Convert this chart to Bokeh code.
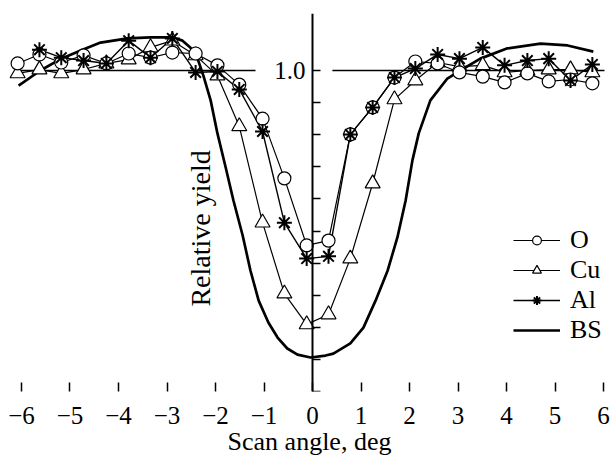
import numpy as np
from bokeh.plotting import figure
from bokeh.models import (Range1d, LinearAxis, FixedTicker, Label, Legend,
                          LegendItem)
from bokeh.embed import file_html
from bokeh.resources import INLINE

# ---- data ----
angle = [-6.08, -5.63, -5.18, -4.72, -4.25, -3.79, -3.34, -2.89, -2.41,
         -1.96, -1.51, -1.03, -0.58, -0.12, 0.33, 0.78, 1.24, 1.69, 2.12,
         2.58, 3.03, 3.51, 3.96, 4.43, 4.87, 5.32, 5.77]
o_yield = [1.022, 1.050, 1.025, 1.047, 1.022, 1.053, 1.040, 1.056, 1.053,
           1.016, 0.956, 0.850, 0.664, 0.455, 0.470, 0.801, 0.885, 0.978,
           1.028, 1.022, 0.994, 0.981, 0.963, 0.991, 0.966, 0.972, 0.960]
cu_yield = [0.991, 1.003, 0.991, 1.003, 1.022, 1.034, 1.072, 1.093, 1.047,
            0.984, 0.826, 0.526, 0.305, 0.209, 0.240, 0.414, 0.648, 0.910,
            0.969, 1.025, 1.012, 1.016, 0.994, 1.000, 1.003, 1.003, 0.994]
al_angle = angle[1:]
al_yield = [1.065, 1.040, 1.031, 1.022, 1.093, 1.040, 1.100, 0.994,
            0.997, 0.941, 0.810, 0.526, 0.414, 0.421, 0.801, 0.885, 0.978,
            1.006, 1.050, 1.037, 1.072, 1.016, 1.031, 1.037, 0.969, 1.019]
bs_angle = [-6.06, -5.61, -5.18, -4.78, -4.37, -3.81, -3.34, -2.89, -2.68,
            -2.52, -2.37, -2.25, -2.10, -1.96, -1.79, -1.63, -1.44, -1.28,
            -1.11, -0.91, -0.72, -0.52, -0.31, -0.04, 0.27, 0.43, 0.78,
            1.05, 1.30, 1.55, 1.75, 1.92, 2.06, 2.19, 2.43, 2.78, 3.05,
            3.46, 4.02, 4.70, 5.26, 5.79]
bs_yield = [0.953, 1.000, 1.037, 1.062, 1.087, 1.100, 1.103, 1.103, 1.093,
            1.072, 1.037, 0.984, 0.907, 0.804, 0.698, 0.595, 0.486, 0.377,
            0.283, 0.215, 0.168, 0.134, 0.115, 0.106, 0.112, 0.118, 0.150,
            0.199, 0.283, 0.377, 0.480, 0.595, 0.720, 0.804, 0.907, 0.975,
            1.000, 1.037, 1.069, 1.084, 1.078, 1.059]
x_ticks = [-6, -5, -4, -3, -2, -1, 0, 1, 2, 3, 4, 5, 6]
y_ticks = [0.0, 0.1, 0.2, 0.3, 0.4, 0.5, 0.6, 0.7, 0.8, 0.9, 1.0]
ref_level = 1.0
ref_x0 = [-6.08, 0.41]
ref_x1 = [-1.175, 6.02]

FONT = "Liberation Serif"

p = figure(width=610, height=460,
           x_range=Range1d(-6.268, 6.144), y_range=Range1d(0, 1.1776),
           output_backend="svg", toolbar_location=None,
           y_axis_location=None,
           min_border_left=8, min_border_right=0,
           min_border_top=13, min_border_bottom=69)
p.outline_line_color = None
p.grid.visible = False
p.background_fill_color = "white"
p.border_fill_color = "white"

# x axis
xa = p.xaxis[0]
xa.ticker = FixedTicker(ticks=x_ticks)
xa.major_label_overrides = {t: ("\u2212" + str(abs(t)) if t < 0 else str(t)) for t in x_ticks}
xa.axis_line_color = None
xa.major_tick_in = 9
xa.major_tick_out = 0
xa.major_tick_line_width = 1.5
xa.major_tick_line_color = "black"
xa.minor_tick_line_color = None
xa.major_label_standoff = 15
xa.major_label_text_font = FONT
xa.major_label_text_font_size = "25px"
xa.major_label_text_color = "black"
xa.axis_label = "Scan angle, deg"
xa.axis_label_text_font = FONT
xa.axis_label_text_font_size = "26px"
xa.axis_label_text_font_style = "normal"
xa.axis_label_text_color = "black"
xa.axis_label_standoff = 0

# y axis drawn at angle 0
ya = LinearAxis(fixed_location=0, ticker=FixedTicker(ticks=y_ticks))
ya.major_label_overrides = {t: ("1.0" if t == 1.0 else "") for t in y_ticks}
ya.major_tick_in = 8
ya.major_tick_out = 0
ya.major_tick_line_width = 1.5
ya.axis_line_width = 2
ya.minor_tick_line_color = None
ya.major_label_standoff = 7
ya.major_label_text_font = FONT
ya.major_label_text_font_size = "25px"
ya.major_label_text_color = "black"
p.add_layout(ya, "left")

p.add_layout(Label(x=-2.31, y=0.508, text="Relative yield", angle=np.pi / 2,
                   text_align="center", text_baseline="middle",
                   text_font=FONT, text_font_size="28px", text_color="black"))

# reference line at 1.0
p.segment(x0=ref_x0, x1=ref_x1, y0=[ref_level] * 2, y1=[ref_level] * 2,
          line_color="black", line_width=1.5)

bs_line = p.line(bs_angle, bs_yield, line_color="black", line_width=2.7)
cu_line = p.line(angle, cu_yield, line_color="black", line_width=1.2)
o_line = p.line(angle, o_yield, line_color="black", line_width=1.2)
al_line = p.line(al_angle, al_yield, line_color="black", line_width=1.4)
cu_pts = p.scatter(angle, cu_yield, marker="triangle", size=15,
                   fill_color="white", line_color="black", line_width=1.2)
o_pts = p.scatter(angle, o_yield, marker="circle", size=13,
                  fill_color="white", line_color="black", line_width=1.2)
al_pts = p.scatter(al_angle, al_yield, marker="asterisk", size=15,
                   line_color="black", line_width=2)

legend = Legend(items=[
    LegendItem(label="O", renderers=[o_line, o_pts]),
    LegendItem(label="Cu", renderers=[cu_line, cu_pts]),
    LegendItem(label="Al", renderers=[al_line, al_pts]),
    LegendItem(label="BS", renderers=[bs_line]),
], location=(505, 46))
legend.background_fill_alpha = 0
legend.border_line_color = None
legend.padding = 0
legend.margin = 0
legend.glyph_width = 47
legend.glyph_height = 22
legend.label_standoff = 10
legend.spacing = 0
legend.label_text_font = FONT
legend.label_text_font_size = "26px"
legend.label_text_color = "black"
legend.label_height = 22
p.add_layout(legend)

open("out.html", "w").write(file_html(p, INLINE))
